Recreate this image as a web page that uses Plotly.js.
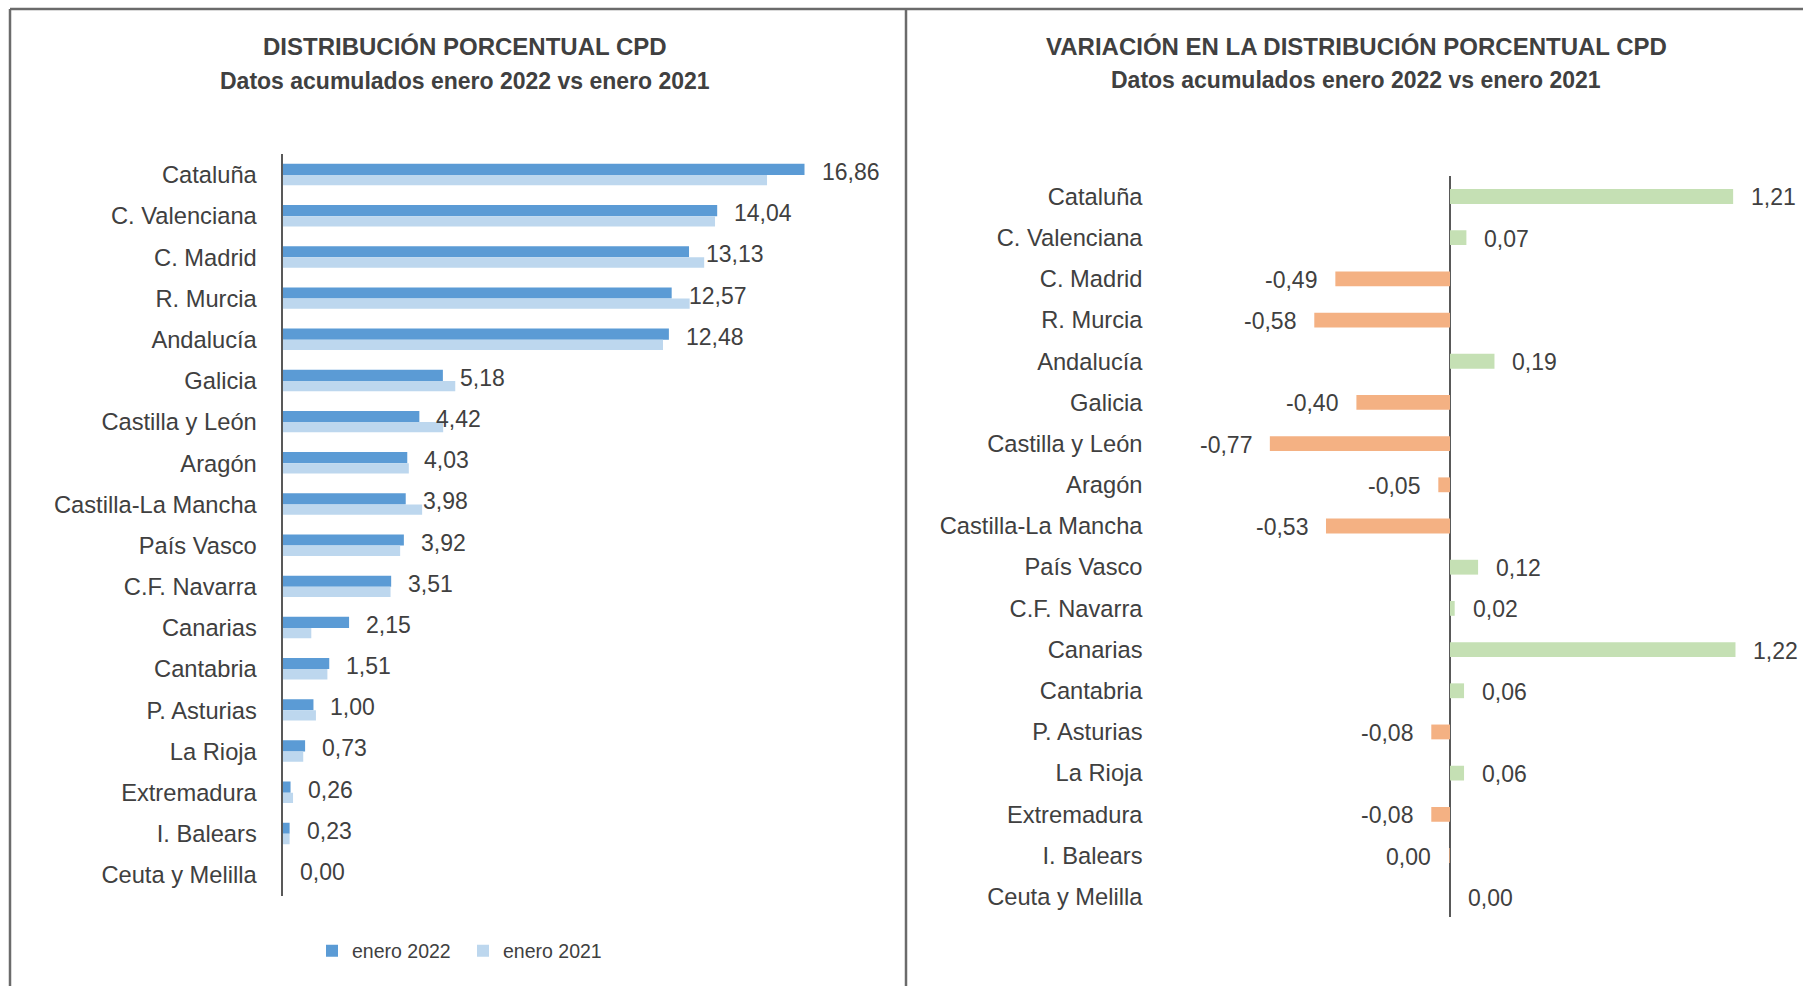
<!DOCTYPE html>
<html>
<head>
<meta charset="utf-8">
<script src="https://cdn.plot.ly/plotly-3.0.1.min.js"></script>
<style>
  html, body { margin: 0; padding: 0; background: #ffffff; }
  #chart { width: 1803px; height: 986px; }
</style>
</head>
<body>
<div id="chart"></div>
<script>
// ---------------- DATA ----------------
const categories = [
  "Cataluña", "C. Valenciana", "C. Madrid", "R. Murcia", "Andalucía", "Galicia",
  "Castilla y León", "Aragón", "Castilla-La Mancha", "País Vasco", "C.F. Navarra",
  "Canarias", "Cantabria", "P. Asturias", "La Rioja", "Extremadura", "I. Balears",
  "Ceuta y Melilla"
];
const enero2022 = [16.86, 14.04, 13.13, 12.57, 12.48, 5.18, 4.42, 4.03, 3.98, 3.92, 3.51, 2.15, 1.51, 1.00, 0.73, 0.26, 0.23, 0.00];
const enero2021 = [15.65, 13.97, 13.62, 13.15, 12.29, 5.58, 5.19, 4.08, 4.51, 3.80, 3.49, 0.93, 1.45, 1.08, 0.67, 0.34, 0.23, 0.00];
const variacion = [1.21, 0.07, -0.49, -0.58, 0.19, -0.40, -0.77, -0.05, -0.53, 0.12, 0.02, 1.22, 0.06, -0.08, 0.06, -0.08, -0.003, 0.00];
const seriesNames = ["enero 2022", "enero 2021"];
const leftTitle = "DISTRIBUCIÓN PORCENTUAL CPD";
const rightTitle = "VARIACIÓN EN LA DISTRIBUCIÓN PORCENTUAL CPD";
const subTitle = "Datos acumulados enero 2022 vs enero 2021";

// ---------------- STYLE ----------------
const W = 1803, H = 986;
const FONT = "'Liberation Sans', Arial, sans-serif";
const TXT = "#404040";
const C2022 = "#5B9BD5", C2021 = "#BDD7EE";
const CPOS = "#C5E0B4", CNEG = "#F4B183";
const px = x => x / W;
const py = y => 1 - y / H;
const fmt = v => (Math.abs(v) < 0.005 ? 0 : v).toFixed(2).replace(".", ",");

const traces = [
  {
    type: "bar", orientation: "h", name: seriesNames[0],
    x: enero2022, y: categories, xaxis: "x", yaxis: "y",
    marker: { color: C2022 }, width: 0.27, offset: -0.27,
    hoverinfo: "skip"
  },
  {
    type: "bar", orientation: "h", name: seriesNames[1],
    x: enero2021, y: categories, xaxis: "x", yaxis: "y",
    marker: { color: C2021 }, width: 0.25, offset: 0,
    hoverinfo: "skip"
  },
  {
    type: "bar", orientation: "h", name: "variación", showlegend: false,
    x: variacion, y: categories, xaxis: "x2", yaxis: "y2",
    marker: { color: variacion.map(v => v < 0 ? CNEG : CPOS) },
    width: 0.36, offset: -0.18,
    hoverinfo: "skip"
  }
];

const annotations = [];
// titles
[[leftTitle, 465, 47, 24], [subTitle, 465, 81, 23]].forEach(([t, x, y, s]) =>
  annotations.push({ xref: "paper", yref: "paper", x: px(x), y: py(y), xanchor: "center", yanchor: "middle",
    text: "<b>" + t + "</b>", showarrow: false, font: { family: FONT, size: s, color: TXT } }));
[[rightTitle, 1356, 46.5, 24], [subTitle, 1356, 80, 23]].forEach(([t, x, y, s]) =>
  annotations.push({ xref: "paper", yref: "paper", x: px(x), y: py(y), xanchor: "center", yanchor: "middle",
    text: "<b>" + t + "</b>", showarrow: false, font: { family: FONT, size: s, color: TXT } }));

// left data labels (on enero 2022 bars)
categories.forEach((c, i) => {
  annotations.push({ xref: "x", yref: "y", x: enero2022[i], y: c, text: fmt(enero2022[i]),
    showarrow: false, xanchor: "left", yanchor: "middle", xshift: 15, yshift: 3,
    font: { family: FONT, size: 23, color: TXT } });
});
// right data labels
categories.forEach((c, i) => {
  const v = variacion[i];
  const neg = v < 0;
  annotations.push({ xref: "x2", yref: "y2", x: v, y: c, text: fmt(v),
    showarrow: false, xanchor: neg ? "right" : "left", yanchor: "middle", xshift: neg ? -16 : 16, yshift: -1,
    font: { family: FONT, size: 23, color: TXT } });
});

const borderLine = { color: "#6b6b6b", width: 2.5 };
const shapes = [
  { type: "line", xref: "paper", yref: "paper", x0: px(10), x1: 1, y0: py(9), y1: py(9), line: borderLine },
  { type: "line", xref: "paper", yref: "paper", x0: px(10), x1: px(10), y0: py(9), y1: 0, line: borderLine },
  { type: "line", xref: "paper", yref: "paper", x0: px(906), x1: px(906), y0: py(9), y1: 0, line: borderLine }
];

const layout = {
  width: W, height: H,
  margin: { l: 0, r: 0, t: 0, b: 0 },
  paper_bgcolor: "#ffffff", plot_bgcolor: "rgba(0,0,0,0)",
  barmode: "overlay",
  showlegend: true,
  legend: {
    orientation: "h", x: px(463), xanchor: "center", y: py(951), yanchor: "middle",
    entrywidth: 106, itemwidth: 30,
    font: { family: FONT, size: 19.5, color: TXT }, bgcolor: "rgba(0,0,0,0)"
  },
  font: { family: FONT, color: TXT },
  xaxis: {
    domain: [px(282.5), px(839.8)], range: [0, 18], anchor: "y",
    showgrid: false, zeroline: false, showticklabels: false, showline: false, ticks: "", fixedrange: true
  },
  yaxis: {
    domain: [py(895.6), py(154.4)], anchor: "x", type: "category",
    categoryorder: "array", categoryarray: categories, range: [17.5, -0.5],
    showgrid: false, zeroline: false, showline: true, linecolor: "#595959", linewidth: 2,
    ticks: "", ticklabelstandoff: 19,
    tickfont: { family: FONT, size: 23.7, color: TXT }, fixedrange: true
  },
  xaxis2: {
    domain: [px(1150.5), px(1789.3)], range: [-1.28, 1.45], anchor: "y2",
    showgrid: false, zeroline: true, zerolinecolor: "#595959", zerolinewidth: 2,
    showticklabels: false, showline: false, ticks: "", fixedrange: true
  },
  yaxis2: {
    domain: [py(917.3), py(175.9)], anchor: "x2", type: "category",
    categoryorder: "array", categoryarray: categories, range: [17.5, -0.5],
    showgrid: false, zeroline: false, showline: false,
    ticks: "", ticklabelstandoff: 7,
    tickfont: { family: FONT, size: 23.7, color: TXT }, fixedrange: true
  },
  annotations: annotations,
  shapes: shapes
};

Plotly.newPlot("chart", traces, layout, { displayModeBar: false, staticPlot: true });
</script>
</body>
</html>
